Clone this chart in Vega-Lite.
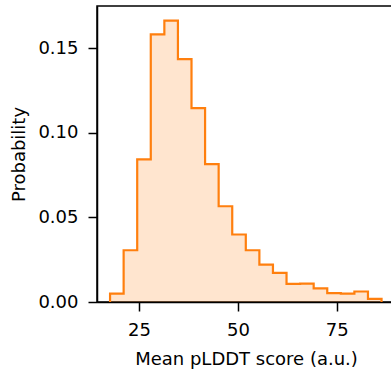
{
  "$schema": "https://vega.github.io/schema/vega-lite/v6.json",
  "width": 298,
  "height": 296,
  "autosize": {"type": "none"},
  "padding": {"left": 97, "top": 6, "right": 0, "bottom": 71},
  "background": "white",
  "config": {
    "view": {"stroke": "black", "strokeWidth": 1.5},
    "font": "DejaVu Sans",
    "axis": {
      "grid": false,
      "domainColor": "black",
      "domainWidth": 1.5,
      "tickColor": "black",
      "tickWidth": 1.5,
      "tickSize": 9,
      "labelFont": "DejaVu Sans",
      "labelFontSize": 18,
      "labelColor": "black",
      "labelPadding": 10,
      "titleFont": "DejaVu Sans",
      "titleFontSize": 18,
      "titleFontWeight": "normal",
      "titleColor": "black"
    }
  },
  "data": {
    "values": [
      {"score": 17.7, "p": 0},
      {"score": 17.7, "p": 0.005},
      {"score": 21.13, "p": 0.0306},
      {"score": 24.56, "p": 0.0843},
      {"score": 27.99, "p": 0.1582},
      {"score": 31.42, "p": 0.1663},
      {"score": 34.85, "p": 0.1436},
      {"score": 38.28, "p": 0.1146},
      {"score": 41.71, "p": 0.0815},
      {"score": 45.14, "p": 0.0566},
      {"score": 48.57, "p": 0.0399},
      {"score": 52.0, "p": 0.0306},
      {"score": 55.43, "p": 0.0221},
      {"score": 58.86, "p": 0.0172},
      {"score": 62.29, "p": 0.0107},
      {"score": 65.72, "p": 0.0109},
      {"score": 69.15, "p": 0.0081},
      {"score": 72.58, "p": 0.0053},
      {"score": 76.01, "p": 0.005},
      {"score": 79.44, "p": 0.0062},
      {"score": 82.87, "p": 0.0018},
      {"score": 86.3, "p": 0}
    ]
  },
  "encoding": {
    "x": {
      "field": "score",
      "type": "quantitative",
      "scale": {"domain": [14.4, 89.7], "nice": false, "zero": false},
      "axis": {"values": [25, 50, 75], "title": "Mean pLDDT score (a.u.)", "titlePadding": 11}
    },
    "y": {
      "field": "p",
      "type": "quantitative",
      "scale": {"domain": [0, 0.175], "nice": false},
      "axis": {"values": [0, 0.05, 0.1, 0.15], "format": ".2f", "title": "Probability", "titlePadding": 9}
    },
    "order": {"value": null}
  },
  "layer": [
    {"mark": {"type": "area", "interpolate": "step-after", "color": "#ff7f0e", "opacity": 0.2}},
    {"mark": {"type": "line", "interpolate": "step-after", "color": "#ff7f0e", "strokeWidth": 2.2}}
  ]
}
